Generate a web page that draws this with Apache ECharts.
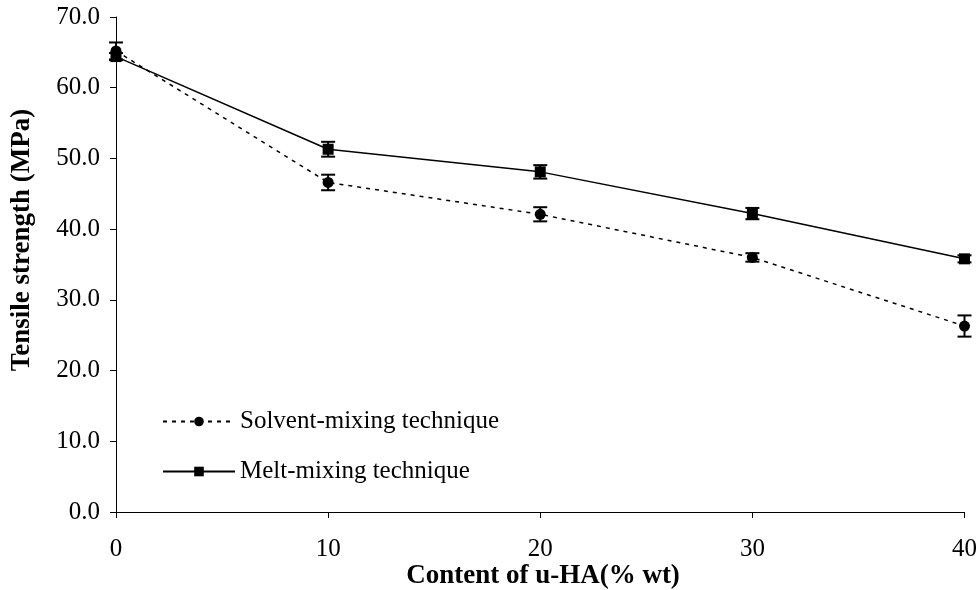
<!DOCTYPE html>
<html>
<head>
<meta charset="utf-8">
<script src="https://cdn.jsdelivr.net/npm/echarts@6/dist/echarts.min.js"></script>
<style>html,body{margin:0;padding:0;background:#fff}#c{width:980px;height:590px}</style>
</head>
<body>
<div id="c"></div>
<script>
var categories = [0, 10, 20, 30, 40];
var solventValues = [65.2, 46.6, 42.1, 36.0, 26.3];
var solventErrors = [1.2, 1.1, 1.0, 0.6, 1.5];
var meltValues = [64.4, 51.3, 48.1, 42.2, 35.8];
var meltErrors = [0.5, 1.05, 0.95, 0.8, 0.5];
var yTicks = [0, 10, 20, 30, 40, 50, 60, 70];
var seriesNames = ['Solvent-mixing technique', 'Melt-mixing technique'];
var xTitle = 'Content of u-HA(% wt)';
var yTitle = 'Tensile strength (MPa)';

var FONT = '"Liberation Serif", "Times New Roman", serif';
var FS = 25;
var TFS = 27;

function pairs(vals) { return categories.map(function (x, i) { return [x, vals[i]]; }); }
function errData(vals, errs) { return categories.map(function (x, i) { return [x, vals[i] - errs[i], vals[i] + errs[i]]; }); }

function errRender(params, api) {
  var x = api.value(0);
  var lo = api.coord([x, api.value(1)]);
  var hi = api.coord([x, api.value(2)]);
  var hw = 7;
  var st = { stroke: '#000', lineWidth: 2 };
  return {
    type: 'group',
    children: [
      { type: 'line', shape: { x1: lo[0], y1: lo[1], x2: hi[0], y2: hi[1] }, style: st },
      { type: 'line', shape: { x1: lo[0] - hw, y1: lo[1], x2: lo[0] + hw, y2: lo[1] }, style: st },
      { type: 'line', shape: { x1: hi[0] - hw, y1: hi[1], x2: hi[0] + hw, y2: hi[1] }, style: st }
    ]
  };
}

var chart = echarts.init(document.getElementById('c'), null, { renderer: 'canvas' });
chart.setOption({
  animation: false,
  backgroundColor: '#fff',
  textStyle: { fontFamily: FONT, color: '#000' },
  grid: { left: 116, right: 10, top: 17, bottom: 78 },
  graphic: [
    {
      type: 'text',
      x: 22, y: 240,
      rotation: Math.PI / 2,
      style: { text: yTitle, font: 'bold ' + TFS + 'px ' + FONT, fill: '#000', align: 'center', verticalAlign: 'middle' }
    },
    {
      type: 'text',
      x: 543, y: 576,
      style: { text: xTitle, font: 'bold ' + TFS + 'px ' + FONT, fill: '#000', align: 'center', verticalAlign: 'middle' }
    }
  ],
  legend: {
    orient: 'vertical',
    left: 157,
    top: 404,
    itemGap: 25,
    itemWidth: 72,
    itemHeight: 12,
    data: seriesNames,
    textStyle: { fontFamily: FONT, fontSize: FS, color: '#000' }
  },
  xAxis: {
    type: 'value',
    min: 0, max: 40, interval: 10,
    axisLine: { lineStyle: { color: '#000', width: 1 } },
    axisTick: { show: true, inside: false, length: 6, lineStyle: { color: '#000' } },
    axisLabel: { margin: 25, fontFamily: FONT, fontSize: FS, color: '#000' },
    splitLine: { show: false }
  },
  yAxis: {
    type: 'value',
    min: yTicks[0], max: yTicks[yTicks.length - 1], interval: 10,
    axisLine: { show: true, lineStyle: { color: '#000', width: 1 } },
    axisTick: { show: true, inside: false, length: 6, lineStyle: { color: '#000' } },
    axisLabel: { margin: 16, fontFamily: FONT, fontSize: FS, color: '#000', formatter: function (v) { return v.toFixed(1); } },
    splitLine: { show: false }
  },
  series: [
    {
      name: seriesNames[0], type: 'line', data: pairs(solventValues),
      symbol: 'circle', symbolSize: 11,
      itemStyle: { color: '#000' },
      lineStyle: { color: '#000', width: 1.5, type: [4, 5] },
      z: 3
    },
    {
      name: seriesNames[1], type: 'line', data: pairs(meltValues),
      symbol: 'rect', symbolSize: 11,
      itemStyle: { color: '#000' },
      lineStyle: { color: '#000', width: 1.5, type: 'solid' },
      z: 3
    },
    { type: 'custom', renderItem: errRender, data: errData(solventValues, solventErrors), z: 2, silent: true },
    { type: 'custom', renderItem: errRender, data: errData(meltValues, meltErrors), z: 2, silent: true }
  ]
});
</script>
</body>
</html>
